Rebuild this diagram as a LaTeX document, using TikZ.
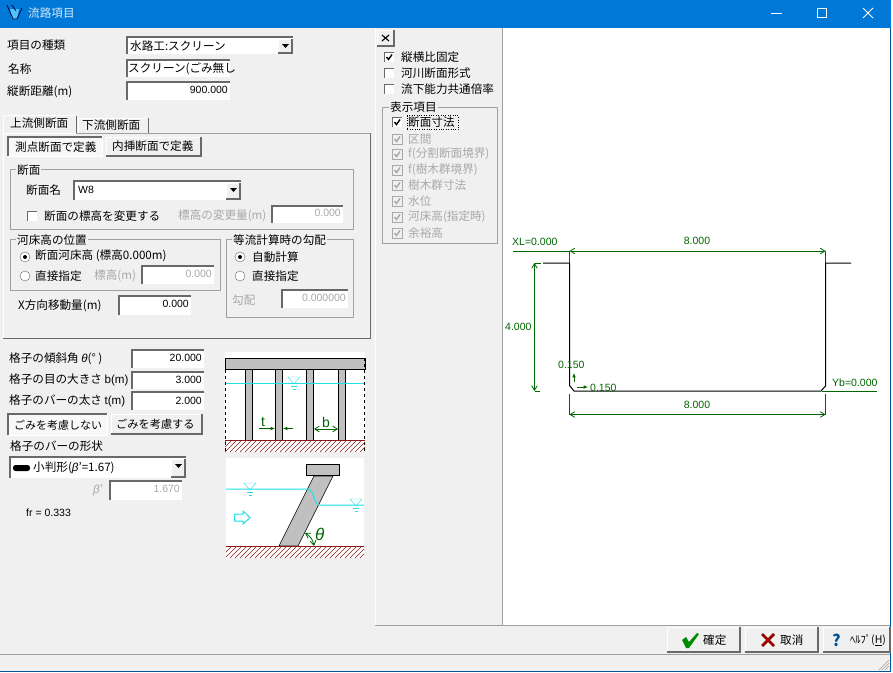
\documentclass[tikz,border=0pt]{standalone}
\usepackage{fontspec}
\setmainfont{Noto Sans CJK JP}
\newfontfamily\numfont{Liberation Sans}
\usetikzlibrary{arrows.meta,positioning}
\definecolor{winblue}{HTML}{0078D7}
\definecolor{panel}{HTML}{F0F0F0}
\definecolor{edge}{HTML}{A0A0A0}
\definecolor{dark}{HTML}{696969}
\definecolor{dimgreen}{HTML}{006400}
\definecolor{water}{HTML}{20E0E8}
\definecolor{bed}{HTML}{8B1A1A}
\definecolor{steel}{HTML}{C0C0C0}
\definecolor{off}{HTML}{A8A8A8}
\tikzset{
	txt/.style={anchor=west,inner sep=0pt,font=\fontsize{11.6}{12}\selectfont},
	offtxt/.style={txt,text=off},
	val/.style={anchor=east,inner sep=0pt,font=\numfont\fontsize{10.5}{12}\selectfont},
	offval/.style={val,text=off},
	dimtxt/.style={anchor=west,inner sep=0pt,text=dimgreen,font=\numfont\fontsize{10.5}{12}\selectfont},
	dim/.style={dimgreen,line width=0.8pt},
	dimarrow/.style={dim,{Straight Barb[length=1.6mm,width=2mm]}-{Straight Barb[length=1.6mm,width=2mm]}},
	tiparrow/.style={dim,-{Latex[length=1.5mm,width=1.3mm]}},
	grouptitle/.style={txt,fill=panel,inner xsep=1pt},
	profile/.style={black,line width=1pt},
	waterline/.style={water,line width=1pt},
	hatch/.style={bed,line width=0.6pt}
}
% widgets, all given by left, top, right, bottom
\newcommand{\fieldbox}[4]{
	\fill[white] (#1,#2) rectangle (#3,#4);
	\draw[dark,line width=1.2pt] (#1,#4) -- (#1,#2) -- (#3,#2);
}
\newcommand{\raisedbox}[4]{
	\fill[panel] (#1,#2) rectangle (#3,#4);
	\draw[white,line width=1pt] (#1,#4) -- (#1,#2) -- (#3,#2);
	\draw[dark,line width=1.2pt] (#1,#4) -- (#3,#4) -- (#3,#2);
}
\newcommand{\pressedbox}[4]{
	\fill[panel!50!white] (#1,#2) rectangle (#3,#4);
	\draw[dark,line width=1.2pt] (#1,#4) -- (#1,#2) -- (#3,#2);
	\draw[white,line width=1pt] (#1,#4) -- (#3,#4) -- (#3,#2);
}
\newcommand{\combobox}[4]{
	\fieldbox{#1}{#2}{#3}{#4}
	\raisedbox{\numexpr#3-15\relax}{\numexpr#2+2\relax}{\numexpr#3-1\relax}{\numexpr#4-1\relax}
	\fill[black] (#3-11,#2+7) -- (#3-4,#2+7) -- (#3-7.5,#2+11) -- cycle;
}
\newcommand{\groupbox}[4]{
	\draw[edge] (#1,#2) rectangle (#3,#4);
}
% x left and y centre
\newcommand{\tickbox}[2]{
	\fill[white] (#1,#2-5) rectangle (#1+10,#2+5);
	\draw[dark] (#1,#2+5) -- (#1,#2-5) -- (#1+10,#2-5);
}
\newcommand{\tickmark}[3]{
	\draw[#3,line width=1.4pt] (#1+2.5,#2) -- (#1+4.5,#2+2.5) -- (#1+8,#2-2.5);
}
\newcommand{\offtick}[2]{
	\fill[panel] (#1,#2-5) rectangle (#1+10,#2+5);
	\draw[off] (#1,#2-5) rectangle (#1+10,#2+5);
	\tickmark{#1}{#2}{off}
}
\newcommand{\radiobtn}[2]{
	\fill[white] (#1,#2) circle (5);
	\draw[dark] (#1,#2) circle (5);
}
% x centre and y of the water line
\newcommand{\watermark}[2]{
	\draw[water] (#1-6,#2-6) -- (#1+6,#2-6) -- (#1,#2+1) -- cycle;
	\draw[water] (#1-3,#2+3) -- (#1+3,#2+3);
	\draw[water] (#1-1.5,#2+6) -- (#1+1.5,#2+6);
}
\begin{document}
\begin{tikzpicture}[x=1pt,y=-1pt]
\useasboundingbox (0,0) rectangle (893,672);
\fill[white] (0,0) rectangle (893,672);
\fill[panel] (0,28) rectangle (890,671);

% title bar
\fill[winblue] (0,0) rectangle (891,28);
\fill[cyan!70!white] (10,9) -- (19,9) -- (17,19) -- (12,19) -- cycle;
\draw[black!70!blue,line width=0.8pt] (7,5) -- (13,19) -- (17,19) -- (22,8);
\draw[black!70!blue,line width=0.8pt] (12,5) -- (16,11);
\node[txt,text=white!85!winblue] (title) at (28,13) {流路項目};
\draw[white,line width=0.8pt] (771,13) -- (782,13);
\draw[white] (817.5,8) rectangle (826.5,17);
\draw[white,line width=0.8pt] (863,8) -- (873,18) (873,8) -- (863,18);
\draw[winblue!70!black,line width=1.5pt] (890.5,28) -- (890.5,671.5) -- (0,671.5);

% top fields
\node[txt] (kind) at (7,45) {項目の種類};
\combobox{127}{37}{293}{54}
\node[txt] (kindval) at (130,46) {水路工:スクリーン};
\node[txt] (name) at (8,69) {名称};
\fieldbox{127}{60}{230}{77}
\node[txt] (nameval) at (128,69) {スクリーン(ごみ無し};
\node[txt] (dist) at (7,92) {縦断距離(m)};
\fieldbox{127}{82}{230}{100}
\node[val] (distval) at (228,90) {900.000};

% tabs
\draw[white] (3,339) -- (3,133) -- (76,133);
\draw[edge] (76,133) -- (371,133);
\draw[dark,line width=1.2pt] (3,338.5) -- (370.5,338.5) -- (370.5,133);
\draw[white] (3,133) -- (3,115) -- (75,115);
\draw[dark] (76,116) -- (76,133);
\draw[white] (78,133) -- (78,118) -- (147,118);
\draw[dark] (148,118) -- (148,133);
\node[txt] (upper) at (10,123) {上流側断面};
\node[txt] (lower) at (82,125) {下流側断面};
\pressedbox{8}{137}{102}{156}
\node[txt] (bypoint) at (15,147) {測点断面で定義};
\raisedbox{106}{137}{201}{156}
\node[txt] (byinterp) at (112,146) {内挿断面で定義};

% section group
\groupbox{10.5}{169.5}{353.5}{229.5}
\node[grouptitle] (secttitle) at (16,170) {断面};
\node[txt] (sectname) at (26,190) {断面名};
\combobox{74}{181}{241}{200}
\node[val,anchor=west] (sectval) at (78,190) {W8};
\tickbox{27}{216}
\node[txt] (chgelev) at (44,216) {断面の標高を変更する};
\node[offtxt] (chgamount) at (178,216) {標高の変更量(m)};
\fieldbox{272}{206}{343}{223}
\node[offval] (chgval) at (341,213) {0.000};

% bed height group
\groupbox{10.5}{239.5}{220.5}{290.5}
\node[grouptitle] (bedtitle) at (16,240) {河床高の位置};
\radiobtn{25}{257}
\fill[black] (25,257) circle (2);
\node[txt] (bedsect) at (35,256) {断面河床高 (標高0.000m)};
\radiobtn{25}{276}
\node[txt] (beddirect) at (35,276) {直接指定};
\node[offtxt] (bedelev) at (94,276) {標高(m)};
\fieldbox{142}{266}{214}{284}
\node[offval] (bedval) at (212,274) {0.000};

% slope group
\groupbox{226.5}{239.5}{353.5}{317.5}
\node[grouptitle] (slopetitle) at (232,240) {等流計算時の勾配};
\radiobtn{240}{257}
\fill[black] (240,257) circle (2);
\node[txt] (slopeauto) at (252,257) {自動計算};
\radiobtn{240}{276}
\node[txt] (slopedirect) at (252,276) {直接指定};
\node[offtxt] (slopelabel) at (232,300) {勾配};
\fieldbox{282}{290}{348}{308}
\node[offval] (slopeval) at (346,298) {0.000000};

\node[txt] (xshift) at (18,306) {X方向移動量(m)};
\fieldbox{119}{296}{191}{315}
\node[val] (xshiftval) at (189,304) {0.000};

% screen fields
\node[txt] (angle) at (9,359) {格子の傾斜角 {\numfont\itshape θ}(° )};
\fieldbox{132}{350}{204}{368}
\node[val] (angleval) at (202,358) {20.000};
\node[txt] (gap) at (9,380) {格子の目の大きさ {\numfont b(m)}};
\fieldbox{132}{372}{204}{389}
\node[val] (gapval) at (202,380) {3.000};
\node[txt] (thick) at (9,401) {格子のバーの太さ {\numfont t(m)}};
\fieldbox{132}{392}{204}{410}
\node[val] (thickval) at (202,401) {2.000};
\pressedbox{8}{414}{107}{435}
\node[txt,font=\fontsize{11}{12}\selectfont] (nodebris) at (14,425) {ごみを考慮しない};
\raisedbox{111}{414}{202}{434}
\node[txt,font=\fontsize{11.2}{12}\selectfont] (debris) at (116,424) {ごみを考慮する};
\node[txt] (shape) at (10,446) {格子のバーの形状};
\combobox{10}{457}{186}{478}
\fill[black,rounded corners=2.5pt] (13,465) rectangle (30,471);
\node[txt] (shapeval) at (33,468) {小判形({\numfont\itshape β}'=1.67)};
\node[offtxt] (betalabel) at (93,490) {{\numfont\itshape β}'};
\fieldbox{110}{481}{182}{500}
\node[offval] (betaval) at (180,489) {1.670};
\node[val,anchor=west] (froude) at (26,513) {fr = 0.333};

% front view of the screen
\fill[white] (225,352) rectangle (365,452);
\foreach \barx in {245,275,306,338}
	\draw[black,fill=steel,line width=0.5pt] (\barx,369) rectangle (\barx+7.5,440);
\draw[black,fill=steel,line width=0.8pt] (225,358.5) rectangle (365,369.5);
\draw[waterline] (226,383) -- (365,383);
\watermark{294}{383}
\draw[black,dashed] (225.5,358) -- (225.5,452);
\draw[black,dashed] (364.5,358) -- (364.5,452);
\begin{scope}
	\clip (225,441) rectangle (365,452);
	\foreach \hx in {215,220,...,365}
		\draw[hatch] (\hx,452) -- (\hx+11,441);
\end{scope}
\draw[bed,line width=0.9pt] (225,440.5) -- (365,440.5);
\node[txt,text=dimgreen,font=\numfont\fontsize{14}{14}\selectfont] (tlabel) at (261,422) {t};
\draw[tiparrow] (259,428.5) -- (275,428.5);
\draw[tiparrow] (293,428.5) -- (283,428.5);
\node[txt,text=dimgreen,font=\numfont\fontsize{14}{14}\selectfont] (blabel) at (322,422) {b};
\draw[dimarrow] (314,429) -- (338,429);

% side view of the screen
\fill[white] (226,458) rectangle (364,558);
\draw[black,fill=steel,line width=0.6pt] (279,546) -- (298,546) -- (333,476) -- (314,476) -- cycle;
\draw[black,fill=steel,line width=0.8pt] (306,464) rectangle (339,475.5);
\draw[waterline] (226,489) -- (307,489) .. controls (315,489) and (313,505) .. (320,505) -- (364,505);
\watermark{250}{489}
\watermark{356}{505}
\draw[water,line width=1pt] (234.5,514) -- (243,514) -- (243,511) -- (250,517.5) -- (243,524) -- (243,521) -- (234.5,521) -- cycle;
\begin{scope}
	\clip (226,547) rectangle (364,558);
	\foreach \hx in {215,220,...,365}
		\draw[hatch] (\hx,558) -- (\hx+11,547);
\end{scope}
\draw[bed,line width=0.9pt] (226,546.5) -- (364,546.5);
\draw[dimarrow] (305,533) to[bend left=25] (314,546);
\node[txt,text=dimgreen,font=\numfont\itshape\fontsize{17}{17}\selectfont] (thetalabel) at (315,534) {θ};

% view options
\draw[white] (375.5,28) -- (375.5,625);
\raisedbox{377}{30}{394}{46}
\draw[black,line width=1.1pt] (382,35) -- (389,41) (389,35) -- (382,41);
\tickbox{384}{57}
\tickmark{384}{57}{black}
\node[txt] (fixratio) at (401,57) {縦横比固定};
\tickbox{384}{73}
\node[txt] (riverform) at (401,73) {河川断面形式};
\tickbox{384}{89}
\node[txt] (commonscale) at (401,89) {流下能力共通倍率};
\groupbox{382.5}{107.5}{497.5}{243.5}
\node[grouptitle] (showtitle) at (389,107) {表示項目};
\tickbox{392}{122}
\tickmark{392}{122}{black}
\node[txt] (showdim) at (408,122) {断面寸法};
\draw[black,dotted] (407,115.5) rectangle (458,129.5);
\offtick{392}{139}
\node[offtxt] (showspan) at (408,139) {区間};
\offtick{392}{154}
\node[offtxt] (showsplit) at (408,154) {f(分割断面境界)};
\offtick{392}{170}
\node[offtxt] (showtree) at (408,170) {f(樹木群境界)};
\offtick{392}{185}
\node[offtxt] (showtreedim) at (408,185) {樹木群寸法};
\offtick{392}{201}
\node[offtxt] (showlevel) at (408,201) {水位};
\offtick{392}{217}
\node[offtxt] (showbed) at (408,217) {河床高(指定時)};
\offtick{392}{233}
\node[offtxt] (showfree) at (408,233) {余裕高};

% cross section
\fill[white] (503,28) rectangle (890,625);
\draw[edge] (502.5,28) -- (502.5,625.5) -- (375,625.5);
\draw[edge] (502.5,625.5) -- (890,625.5);
\coordinate (topl) at (569.5,263);
\coordinate (topr) at (825.5,263);
\coordinate (botl) at (569.5,391);
\coordinate (botr) at (825.5,391);
\draw[profile] (543,263) -- (topl) -- (569.5,385.5) -- (574,391) -- (821,391) -- (825.5,386) -- (topr) -- (851,263);
\coordinate (dimtl) at (569.5,251);
\coordinate (dimtr) at (825.5,251);
\draw[dim] (513,251) -- (dimtl) -- (topl);
\draw[dim] (dimtr) -- (topr);
\draw[dimarrow] (dimtl) -- (dimtr);
\node[dimtxt] (xl) at (512,242) {XL=0.000};
\node[dimtxt,anchor=center] (topw) at (697,241) {8.000};
\coordinate (dimhb) at (534.5,391);
\coordinate (dimht) at (534.5,263);
\draw[dim] (dimht) -- (541,263);
\draw[dim] (dimhb) -- (540,391);
\draw[dimarrow] (dimht) -- (dimhb);
\node[dimtxt] (height) at (505,327) {4.000};
\coordinate (dimbl) at (569.5,414.5);
\coordinate (dimbr) at (825.5,414.5);
\draw[dim] (569.5,394) -- (dimbl);
\draw[dim] (825.5,394) -- (dimbr);
\draw[dimarrow] (dimbl) -- (dimbr);
\node[dimtxt,anchor=center] (botw) at (697,405) {8.000};
\draw[dim] (822,391) -- (877,391);
\node[dimtxt] (yb) at (832,383) {Yb=0.000};
\node[dimtxt] (chamv) at (558,365) {0.150};
\node[dimtxt] (chamh) at (590,388) {0.150};
\draw[tiparrow] (574,382) -- (574,373);
\draw[tiparrow] (577,387) -- (588,387);

% dialog buttons
\draw[edge] (0,654.5) -- (890,654.5);
\raisedbox{667}{627}{740}{652}
\fill[green!55!black] (682,640) -- (686,637) -- (689,642) -- (697,633) -- (699,634) -- (689,648) -- (686,648) -- cycle;
\node[txt] (ok) at (703,640) {確定};
\raisedbox{745}{627}{818}{652}
\draw[red!60!black,line width=2.8pt] (762,634) -- (774,646) (774,634) -- (762,646);
\node[txt] (cancel) at (780,640) {取消};
\raisedbox{823}{627}{890}{652}
\node[txt,text=winblue!70!black,font=\bfseries\fontsize{16}{16}\selectfont] (helpicon) at (832,640) {?};
\node[txt,font=\fontsize{10.5}{12}\selectfont] (help) at (850,640) {ﾍﾙﾌﾟ(\underline{H})};
\foreach \gripx in {4,7,10}
	\draw[edge] (889,670-\gripx) -- (889-\gripx,670);
\end{tikzpicture}
\end{document}
